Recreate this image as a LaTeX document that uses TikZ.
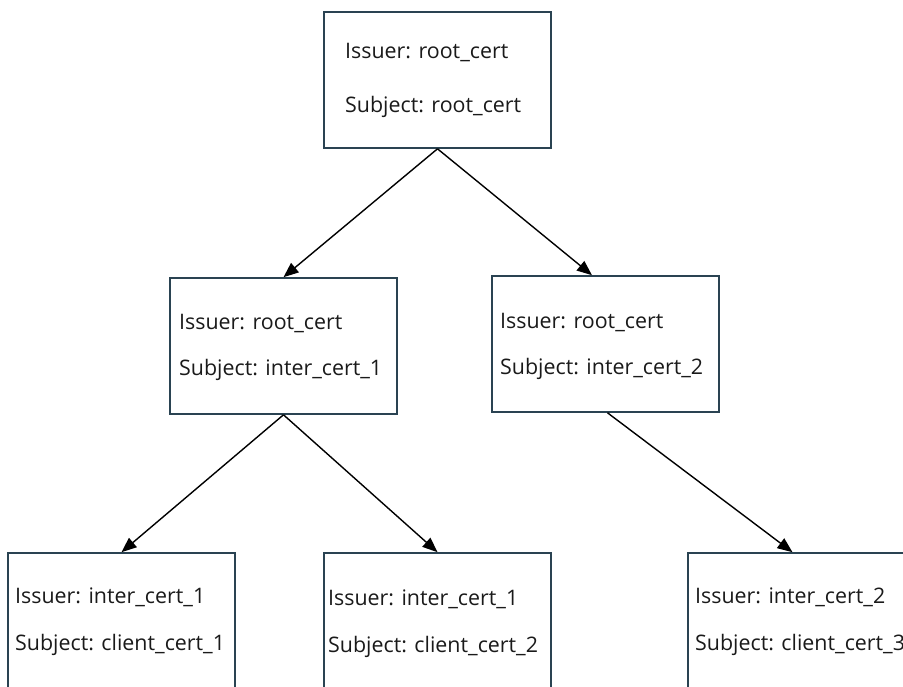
\documentclass[tikz,border=0pt]{standalone}
\usepackage{fontspec}
\setmainfont{Open Sans}
\usetikzlibrary{arrows.meta}
\definecolor{boxline}{HTML}{2A4352}
\definecolor{txt}{HTML}{1A1A1A}
\tikzset{
  certbox/.style={draw=boxline, line width=1.6pt, rectangle, minimum width=227pt, minimum height=136pt, inner sep=0pt},
  certtext/.style={anchor=base west, inner sep=0pt, text=txt, font=\fontsize{21.4}{25}\selectfont},
  link/.style={draw=black, line width=1.4pt, -{Triangle[length=15pt,width=12pt]}}
}
\begin{document}
\begin{tikzpicture}[x=1pt,y=-1pt]
\useasboundingbox (0,0) rectangle (903,686);
\clip (0,0) rectangle (903,686);
% boxes
\node[certbox] (root) at (437.5,80) {};
\node[certbox] (mid1) at (283.5,346) {};
\node[certbox] (mid2) at (605.5,344) {};
\node[certbox] (b1) at (121.5,621) {};
\node[certbox] (b2) at (437.5,621) {};
\node[certbox] (b3) at (801.5,621) {};
% texts
\node[certtext] (t0a) at (345,58) {Issuer: root\_cert};
\node[certtext] (t0b) at (345,112) {Subject: root\_cert};
\node[certtext] (t1a) at (179,329) {Issuer: root\_cert};
\node[certtext] (t1b) at (179,375) {Subject: inter\_cert\_1};
\node[certtext] (t2a) at (500,328) {Issuer: root\_cert};
\node[certtext] (t2b) at (500,374) {Subject: inter\_cert\_2};
\node[certtext] (t3a) at (15,603) {Issuer: inter\_cert\_1};
\node[certtext] (t3b) at (15,650) {Subject: client\_cert\_1};
\node[certtext] (t4a) at (328,605) {Issuer: inter\_cert\_1};
\node[certtext] (t4b) at (328,652) {Subject: client\_cert\_2};
\node[certtext] (t5a) at (695,603) {Issuer: inter\_cert\_2};
\node[certtext] (t5b) at (695,650) {Subject: client\_cert\_3};
% connectors
\draw[link] (root.south) -- (mid1.north);
\draw[link] (root.south) -- ([xshift=-13.5pt]mid2.north);
\draw[link] (mid1.south) -- (b1.north);
\draw[link] (mid1.south) -- (b2.north);
\draw[link] ([xshift=2pt]mid2.south) -- ([xshift=-9pt]b3.north);
\end{tikzpicture}
\end{document}
